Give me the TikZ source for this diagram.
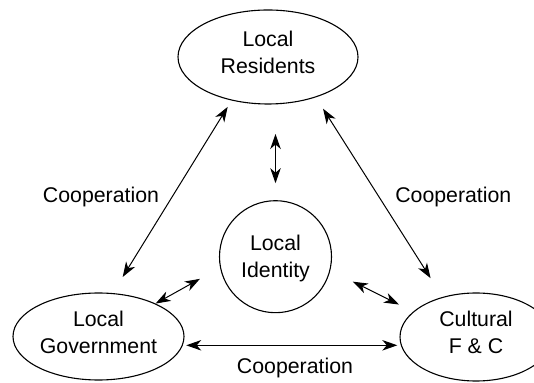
\documentclass[tikz,border=0pt]{standalone}
\usepackage{fontspec}
\setmainfont{Liberation Sans}
\usetikzlibrary{calc, positioning}
\usetikzlibrary{arrows.meta}
\usetikzlibrary{shapes.geometric}
\def\eh{87pt}
\def\idr{112pt}
\tikzset{
    party/.style = {
        draw, ellipse, minimum height=\eh, inner sep=0pt, outer sep=0pt, align=center, line width=1.1pt, text depth=9pt
    },
    core/.style = {
        draw, circle, minimum size=\idr, inner sep=0pt, outer sep=0pt, align=center, line width=1.1pt, text depth=0pt
    },
    coop/.style = {
        inner sep=0pt
    },
}

\begin{document}
\begin{tikzpicture}[x=1pt, y=1pt, font=\fontsize{21.3}{27}\selectfont]
        \useasboundingbox (0,0) rectangle (534,382);

        % Place the blocks
        \node [party, minimum width=180pt, minimum height=94pt] (resid) at (268,325) {Local\\Residents};
        \node [core] (id) at (275.5,125.3) {Local\\Identity};
        \node [party, minimum width=171pt] (gov) at (98.5,45.5) {Local\\Government};
        \node [party, minimum width=152pt, minimum height=88pt] (cult) at (476,45) {Cultural\\F \& C};

        % Place the labels
        \node [coop] (coopL) at (101,185.3) {Cooperation};
        \node [coop] (coopR) at (453.3,185.3) {Cooperation};
        \node [coop] (coopB) at (295,13.7) {Cooperation};

        % Draw connections
        \begin{scope}[line width=1pt, >={Stealth[length=15pt, width=10.5pt, inset=4.5pt]}]
            \draw[<->, shorten <=8pt, shorten >=19.5pt] (resid.230.4) -- (gov.72.3);
            \draw[<->, shorten <=14pt, shorten >=22.8pt] (resid.320.5) -- (cult.130.7);
            \draw[<->, shorten <=30pt, shorten >=17.5pt] (id.north |- resid.south) -- (id.north);
            \draw[<->, shorten <=23.6pt, shorten >=0.6pt] (id.191.2) -- (gov.30.4);
            \draw[<->, shorten <=25.7pt, shorten >=16.4pt] (id.346.8) -- (cult.158.8);
            \draw[<->, shorten <=4pt, shorten >=2.7pt] (gov.-6.5) -- (gov.-6.5 -| cult.west);
        \end{scope}
    \end{tikzpicture}
\end{document}
